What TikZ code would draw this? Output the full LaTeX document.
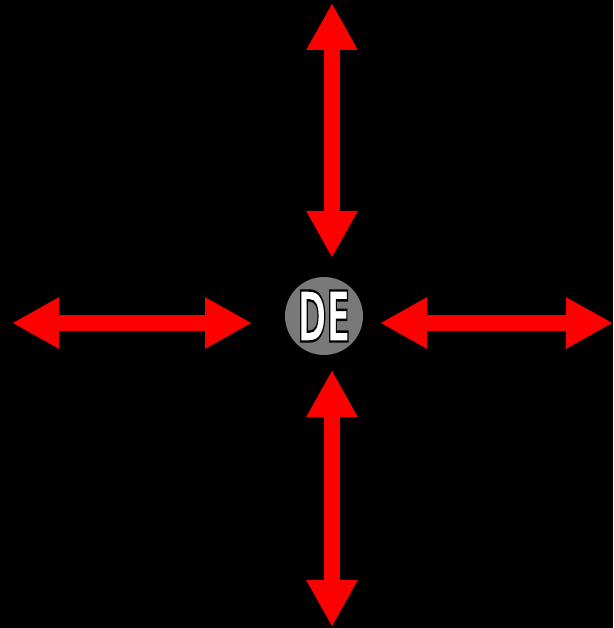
\documentclass[tikz,border=0pt]{standalone}
\usepackage{fontspec}
\setmainfont{DejaVu Sans}
\usetikzlibrary{arrows.meta}
\newcommand{\outlinedtext}[1]{\special{pdf:literal direct 2 Tr 2.4 w 1 g 0 G}#1\special{pdf:literal direct 0 Tr}}
\begin{document}
\begin{tikzpicture}[x=1pt,y=-1pt,
  dbl/.style={draw=red,line width=16pt,
    {Triangle[length=47pt,width=48pt,fill=red]}-{Triangle[length=47pt,width=48pt,fill=red]}}]
\fill[black] (0,0) rectangle (613,628);
\useasboundingbox (0,0) rectangle (613,628);
\node[circle,fill=gray!95!black,minimum size=78pt,inner sep=0pt] (c) at (324,316) {};
\node[inner sep=0pt,text=white] (de) at (324,316) {\scalebox{0.5}[1]{\fontsize{70pt}{70pt}\selectfont\bfseries\outlinedtext{DE}}};
\coordinate (t1) at (332,3);
\coordinate (t2) at (332,258);
\coordinate (b1) at (332,370);
\coordinate (b2) at (332,627);
\coordinate (l1) at (12,323);
\coordinate (l2) at (252,323);
\coordinate (r1) at (380,323);
\coordinate (r2) at (613,323);
\draw[dbl] (t1) -- (t2);
\draw[dbl] (b1) -- (b2);
\draw[dbl] (l1) -- (l2);
\draw[dbl] (r1) -- (r2);
\end{tikzpicture}
\end{document}
